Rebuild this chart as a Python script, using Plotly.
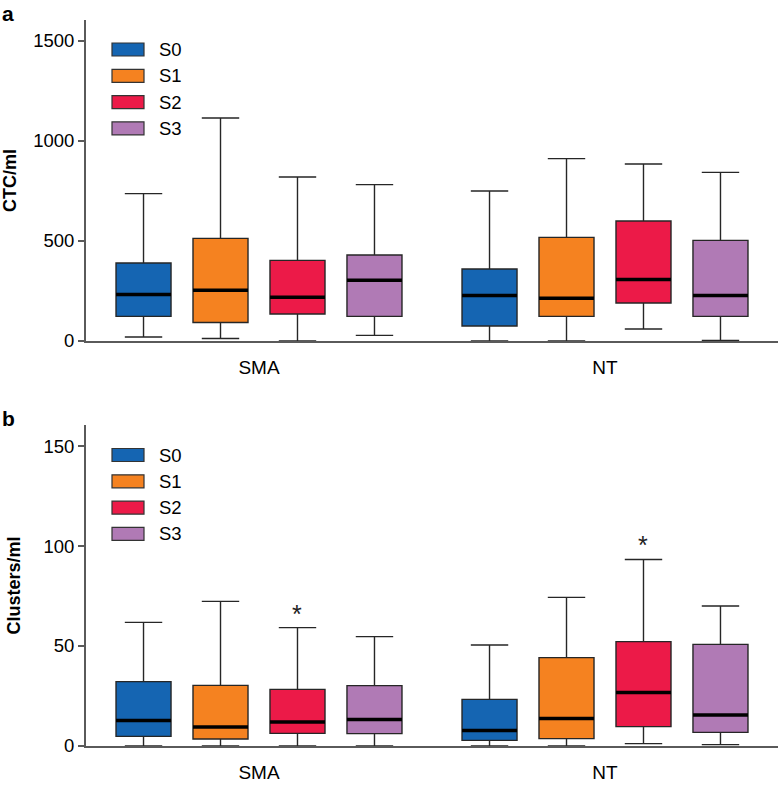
import plotly.graph_objects as go
from plotly.subplots import make_subplots

groups = ["SMA", "NT"]
series = ["S0", "S1", "S2", "S3"]
colors = ["#1565b2", "#f58220", "#ec1a48", "#b07ab5"]

# Panel a: CTC/ml  (per series: [SMA, NT])
ctc_low = {"S0": [20, 0], "S1": [12, 0], "S2": [0, 60], "S3": [28, 3]}
ctc_q1 = {"S0": [123, 75], "S1": [92, 123], "S2": [135, 190], "S3": [123, 123]}
ctc_med = {"S0": [232, 227], "S1": [253, 213], "S2": [218, 307], "S3": [303, 227]}
ctc_q3 = {"S0": [390, 360], "S1": [513, 518], "S2": [403, 600], "S3": [430, 503]}
ctc_high = {"S0": [737, 750], "S1": [1115, 912], "S2": [820, 885], "S3": [782, 843]}

# Panel b: Clusters/ml
cl_low = {"S0": [0, 0], "S1": [0, 0], "S2": [0, 1.2], "S3": [0, 0.7]}
cl_q1 = {"S0": [4.8, 2.8], "S1": [3.5, 3.7], "S2": [6.3, 9.7], "S3": [6.2, 6.8]}
cl_med = {"S0": [12.8, 7.8], "S1": [9.5, 13.7], "S2": [12.0, 26.8], "S3": [13.2, 15.5]}
cl_q3 = {"S0": [32.2, 23.3], "S1": [30.3, 44.2], "S2": [28.3, 52.2], "S3": [30.2, 50.8]}
cl_high = {"S0": [61.8, 50.5], "S1": [72.3, 74.3], "S2": [59.2, 93.3], "S3": [54.7, 70.0]}

# significance markers (panel b, series S2)
sig_series = "S2"
sig_text = "*"

ytick_a = [0, 500, 1000, 1500]
ytick_b = [0, 50, 100, 150]

FONT = "Liberation Sans, Arial, Helvetica, sans-serif"
spacing = 0.2225
box_w = 0.159

fig = make_subplots(rows=2, cols=1, vertical_spacing=0.1158)

panels = [
    (1, ctc_low, ctc_q1, ctc_med, ctc_q3, ctc_high),
    (2, cl_low, cl_q1, cl_med, cl_q3, cl_high),
]

for row, lo, q1, med, q3, hi in panels:
    for k, (s, c) in enumerate(zip(series, colors)):
        xs = [g + (k - 1.5) * spacing for g in range(len(groups))]
        fig.add_trace(go.Box(
            x=xs, q1=q1[s], median=med[s], q3=q3[s],
            lowerfence=lo[s], upperfence=hi[s],
            width=box_w, whiskerwidth=0.68,
            fillcolor=c, line=dict(color="#262626", width=1.4),
            name=s, showlegend=False, hoverinfo="skip",
        ), row=row, col=1)
        mx, my = [], []
        for x, m in zip(xs, med[s]):
            mx += [x - box_w / 2, x + box_w / 2, None]
            my += [m, m, None]
        fig.add_trace(go.Scatter(
            x=mx, y=my, mode="lines", line=dict(color="black", width=3.5),
            showlegend=False, hoverinfo="skip",
        ), row=row, col=1)

# asterisks on panel b
k = series.index(sig_series)
for g in range(len(groups)):
    fig.add_annotation(
        x=g + (k - 1.5) * spacing, y=cl_high[sig_series][g], xref="x2", yref="y2",
        text=sig_text, showarrow=False, yanchor="bottom", yshift=-2,
        font=dict(family=FONT, size=25, color="#222"),
    )

axis_common = dict(showline=True, linecolor="#5a5a5a", linewidth=2,
                   showgrid=False, zeroline=False, mirror=False)
for row in (1, 2):
    fig.update_xaxes(range=[-0.5, 1.5], tickvals=list(range(len(groups))),
                     ticktext=groups, ticks="", ticklabelstandoff=8,
                     tickfont=dict(family=FONT, size=19, color="black"),
                     **axis_common, row=row, col=1)

fig.update_yaxes(range=[0, 1605], tickvals=ytick_a, ticks="outside", ticklen=6,
                 tickcolor="#5a5a5a", tickwidth=2,
                 tickfont=dict(family=FONT, size=18.5, color="black"),
                 title=dict(text="<b>CTC/ml</b>", standoff=18,
                            font=dict(family=FONT, size=18, color="black")),
                 **axis_common, row=1, col=1)
fig.update_yaxes(range=[0, 160.5], tickvals=ytick_b, ticks="outside", ticklen=6,
                 tickcolor="#5a5a5a", tickwidth=2,
                 tickfont=dict(family=FONT, size=18.5, color="black"),
                 title=dict(text="<b>Clusters/ml</b>", standoff=18,
                            font=dict(family=FONT, size=18, color="black")),
                 **axis_common, row=2, col=1)

fig.update_layout(
    width=778, height=785,
    margin=dict(l=86, r=0, t=20, b=39),
    plot_bgcolor="white", paper_bgcolor="white",
    showlegend=False,
)
fig.layout.yaxis.domain = [0.5579, 1.0]
fig.layout.yaxis2.domain = [0.0, 0.4421]

# manual legends (one per panel), positioned in pixel units
W_PLOT = 778 - 86
H_PLOT = 785 - 20 - 39


def px_x(p):
    return (p - 86) / W_PLOT


def px_y(p):
    return (746 - p) / H_PLOT


legend_tops = [49.5, 455]
row_step = 26.3
for top in legend_tops:
    for i, (s, c) in enumerate(zip(series, colors)):
        cy = top + i * row_step
        fig.add_shape(type="rect", xref="paper", yref="paper",
                      x0=px_x(112), x1=px_x(144), y0=px_y(cy + 6.5), y1=px_y(cy - 6.5),
                      fillcolor=c, line=dict(color="#333", width=1.2))
        fig.add_annotation(xref="paper", yref="paper", x=px_x(157), y=px_y(cy),
                           text=s, showarrow=False, xanchor="left", yanchor="middle",
                           font=dict(family=FONT, size=18.5, color="black"))

# panel letters
for letter, py in (("a", 13), ("b", 418)):
    fig.add_annotation(xref="paper", yref="paper", x=px_x(0), y=px_y(py),
                       text=f"<b>{letter}</b>", showarrow=False,
                       xanchor="left", yanchor="middle",
                       font=dict(family=FONT, size=21, color="black"))

fig.write_html("out.html", config={"displayModeBar": False},
               post_script="document.body.style.margin='0';document.body.style.overflow='hidden';")
